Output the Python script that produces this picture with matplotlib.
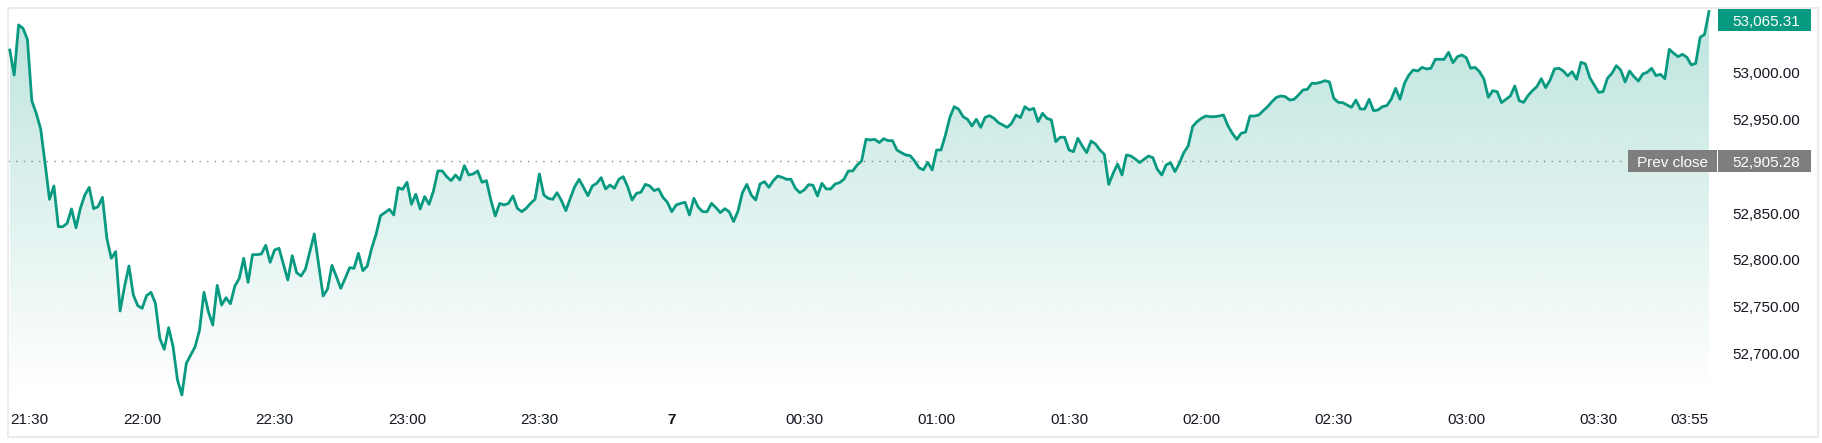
import numpy as np
import matplotlib
matplotlib.use("Agg")
import matplotlib.pyplot as plt
import matplotlib.transforms as mtransforms
from matplotlib.patches import Polygon, Rectangle

# -----------------------------------------------------------------------------
# Datos: un valor por minuto desde las 21:30 hasta las 03:55
# -----------------------------------------------------------------------------
price = [
    53024.2, 52997.5, 53051.0, 53047.4, 53035.6, 52969.8, 52956.6, 52939.9, 52903.2, 52864.7,
    52879.0, 52835.5, 52835.5, 52839.1, 52854.4, 52834.4, 52855.1, 52869.3, 52877.5, 52854.7,
    52856.9, 52866.8, 52823.0, 52801.7, 52808.8, 52745.4, 52771.4, 52793.5, 52762.5, 52751.1,
    52748.3, 52761.8, 52765.4, 52753.6, 52716.2, 52704.5, 52727.6, 52707.3, 52671.7, 52655.7,
    52689.5, 52698.4, 52707.3, 52725.1, 52765.4, 52744.7, 52730.4, 52772.8, 52751.8, 52759.6,
    52753.2, 52772.1, 52780.3, 52801.7, 52776.0, 52805.6, 52805.6, 52806.3, 52815.6, 52797.4,
    52810.6, 52812.4, 52795.6, 52778.5, 52804.5, 52786.4, 52782.8, 52790.3, 52808.8, 52827.7,
    52794.6, 52761.4, 52768.9, 52794.2, 52782.1, 52769.6, 52780.3, 52791.7, 52791.0, 52807.0,
    52788.5, 52793.5, 52812.4, 52827.3, 52847.3, 52850.5, 52854.0, 52848.0, 52877.2, 52875.4,
    52882.9, 52859.4, 52870.1, 52854.4, 52867.6, 52859.4, 52873.6, 52895.0, 52895.0, 52888.9,
    52884.7, 52890.7, 52885.4, 52900.7, 52890.7, 52891.8, 52895.0, 52882.9, 52884.7, 52864.0,
    52846.9, 52860.4, 52858.7, 52860.4, 52868.3, 52855.1, 52851.5, 52855.1, 52860.4, 52864.7,
    52891.8, 52869.3, 52865.8, 52864.7, 52871.8, 52863.3, 52852.6, 52865.8, 52878.2, 52886.1,
    52877.5, 52868.6, 52879.0, 52881.8, 52887.9, 52875.8, 52880.0, 52876.5, 52886.1, 52888.9,
    52878.2, 52864.0, 52871.1, 52872.2, 52880.7, 52879.0, 52874.0, 52875.8, 52866.8, 52861.5,
    52851.5, 52858.7, 52860.4, 52861.5, 52848.0, 52865.8, 52856.2, 52851.5, 52851.5, 52860.4,
    52855.8, 52850.5, 52854.7, 52851.5, 52840.9, 52852.2, 52871.8, 52880.7, 52869.3, 52864.0,
    52881.1, 52883.6, 52877.5, 52884.6, 52889.6, 52888.2, 52886.1, 52886.1, 52876.5, 52871.8,
    52874.7, 52880.4, 52879.7, 52868.3, 52881.8, 52875.8, 52875.8, 52881.1, 52882.5, 52886.1,
    52895.0, 52895.0, 52901.4, 52905.7, 52928.8, 52928.1, 52928.8, 52925.3, 52929.5, 52927.4,
    52927.4, 52917.4, 52914.6, 52912.1, 52911.4, 52905.7, 52898.5, 52896.1, 52904.2, 52896.1,
    52917.4, 52917.4, 52933.4, 52952.3, 52963.7, 52960.9, 52953.0, 52950.2, 52943.1, 52950.2,
    52941.6, 52952.3, 52954.1, 52951.2, 52946.6, 52944.1, 52941.6, 52945.9, 52954.8, 52952.0,
    52963.7, 52960.2, 52961.9, 52947.7, 52956.6, 52951.2, 52949.5, 52926.3, 52931.0, 52931.0,
    52917.4, 52915.6, 52929.9, 52921.7, 52914.6, 52927.0, 52923.8, 52917.4, 52912.8, 52880.7,
    52892.5, 52902.5, 52890.7, 52912.1, 52911.0, 52907.8, 52903.9, 52907.5, 52911.0, 52909.2,
    52896.8, 52890.7, 52901.4, 52903.9, 52894.3, 52903.2, 52914.6, 52921.7, 52942.4, 52947.7,
    52951.2, 52953.7, 52953.0, 52953.0, 52953.7, 52954.8, 52943.4, 52935.2, 52928.8, 52935.2,
    52936.6, 52953.7, 52953.7, 52954.8, 52959.4, 52963.7, 52969.1, 52973.7, 52975.1, 52974.4,
    52970.8, 52971.6, 52976.2, 52981.5, 52982.2, 52988.6, 52988.6, 52989.7, 52991.5, 52990.1,
    52972.6, 52968.3, 52968.0, 52965.5, 52963.0, 52970.8, 52961.2, 52961.2, 52971.6, 52959.4,
    52960.2, 52963.7, 52964.8, 52971.6, 52983.3, 52971.6, 52988.6, 52997.5, 53002.9, 53001.8,
    53005.7, 53004.0, 53004.7, 53014.3, 53014.3, 53014.3, 53021.8, 53010.7, 53017.1, 53018.9,
    53016.1, 53004.7, 53005.7, 53001.1, 52993.3, 52973.7, 52980.8, 52979.7, 52968.0, 52971.5,
    52975.1, 52985.8, 52970.1, 52968.3, 52975.5, 52980.8, 52985.1, 52993.6, 52984.0, 52992.2,
    53004.0, 53004.7, 53001.8, 52996.5, 53001.1, 52992.9, 53011.1, 53009.3, 52994.7, 52986.9,
    52979.0, 52979.7, 52994.0, 52999.3, 53007.5, 53002.9, 52990.1, 53001.8, 52995.8, 52991.1,
    52998.6, 53000.4, 53004.7, 52996.8, 52998.3, 52993.6, 53025.0, 53020.7, 53017.1, 53019.6,
    53016.4, 53008.2, 53010.0, 53037.8, 53041.0, 53065.31,
]
minutes = np.arange(len(price))  # minutos desde las 21:30

prev_close = 52905.28
last_price = price[-1]

# 52,900 y 53,050 quedan tapadas por las etiquetas de precio
y_ticks = [52700, 52750, 52800, 52850, 52950, 53000]
x_tick_min = [0, 30, 60, 90, 120, 150, 180, 210, 240, 270, 300, 330, 360, 385]
x_tick_lab = ["21:30", "22:00", "22:30", "23:00", "23:30", "7", "00:30", "01:00",
              "01:30", "02:00", "02:30", "03:00", "03:30", "03:55"]

# -----------------------------------------------------------------------------
# Estilo
# -----------------------------------------------------------------------------
GREEN = "#089981"
GREY_TAG = "#7e7e7e"
TXT = "#131722"
plt.rcParams['font.family'] = ['Liberation Sans', 'DejaVu Sans']
FS = 11

W, H = 1822, 443
fig = plt.figure(figsize=(W / 100, H / 100), dpi=100)
fig.patch.set_facecolor("white")
ax = fig.add_axes([8 / W, (H - 437) / H, (1818 - 8) / W, (437 - 8) / H])

y_lo, y_hi = 52610.8, 53069.1
x_lo, x_hi = -0.4, 409.7
fill_base = 52658.9

# Relleno con degradado bajo la línea
rgb = np.array(matplotlib.colors.to_rgb(GREEN))
grad = np.zeros((256, 1, 4))
grad[:, 0, :3] = rgb
grad[:, 0, 3] = np.linspace(0.27, 0.0, 256)
im = ax.imshow(grad, extent=[minutes[0], minutes[-1], fill_base, y_hi],
               aspect='auto', origin='upper', zorder=1, interpolation='bilinear')
verts = np.column_stack([np.r_[minutes, minutes[-1], minutes[0]],
                         np.r_[price, fill_base, fill_base]])
clip = Polygon(verts, closed=True, facecolor='none', edgecolor='none')
ax.add_patch(clip)
im.set_clip_path(clip)

ax.plot(minutes, price, color=GREEN, lw=2.0, zorder=3)

# Línea de cierre anterior (punteada)
ax.axhline(prev_close, xmin=0, xmax=(1628 - 8) / 1810, color="#8a8a8a", lw=1.0,
           dashes=(1, 4.5), zorder=2)

ax.set_xlim(x_lo, x_hi)
ax.set_ylim(y_lo, y_hi)

# Eje Y (etiquetas dentro, a la derecha)
ax.yaxis.tick_right()
ax.set_yticks(y_ticks)
ax.set_yticklabels([f"{v:,.2f}" for v in y_ticks])
ax.tick_params(axis='y', length=0, pad=-(1818 - 1732) * 0.72, labelsize=FS, labelcolor=TXT)

# Eje X (etiquetas dentro, abajo)
ax.set_xticks(x_tick_min)
ax.set_xticklabels(x_tick_lab)
ax.tick_params(axis='x', length=0, pad=-(437 - 413) * 0.72, labelsize=FS, labelcolor=TXT)
xlabels = ax.get_xticklabels()
xlabels[0].set_ha('left')
xlabels[-1].set_ha('right')
for lab in xlabels:
    if lab.get_text() == "7":
        lab.set_fontweight('bold')

for s in ax.spines.values():
    s.set_color("#ebebeb")
    s.set_linewidth(1.5)

# Etiquetas de precio (cajas)
trans = mtransforms.blended_transform_factory(ax.transAxes, ax.transData)
ppu = (437 - 8) / (y_hi - y_lo)       # pixeles por unidad
box_h = 22 / ppu


def tag(x0_px, x1_px, yval, color, text, text_x_px=None, ha='left'):
    ax.add_patch(Rectangle(((x0_px - 8) / 1810, yval - box_h / 2), (x1_px - x0_px) / 1810, box_h,
                           transform=trans, facecolor=color, edgecolor='none',
                           zorder=6, clip_on=False))
    tx = text_x_px if text_x_px is not None else x0_px
    ax.text((tx - 8) / 1810, yval, text, transform=trans, color="white", fontsize=FS,
            ha=ha, va='center_baseline', zorder=7, clip_on=False)


# la caja del último precio se queda dentro del marco
last_tag_y = min(last_price, y_hi - 12 / ppu)
tag(1718, 1811, last_tag_y, GREEN, f"{last_price:,.2f}", 1732)
tag(1628, 1717, prev_close, GREY_TAG, "Prev close", 1672.5, ha='center')
tag(1718, 1811, prev_close, GREY_TAG, f"{prev_close:,.2f}", 1732)

fig.savefig("out.png", dpi=100, facecolor="white")
